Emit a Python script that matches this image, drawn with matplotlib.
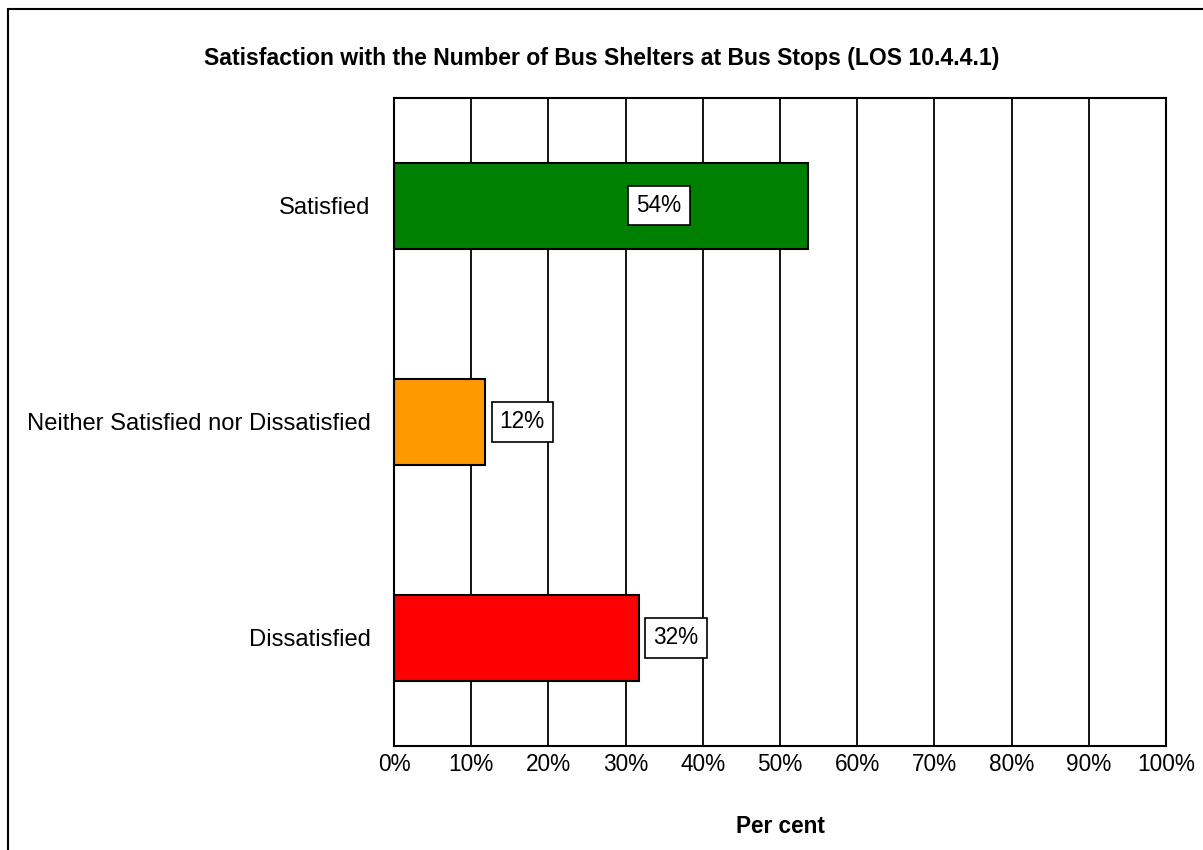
import matplotlib
matplotlib.use("Agg")
import matplotlib.pyplot as plt
from matplotlib.patches import Rectangle
from matplotlib.ticker import MultipleLocator, PercentFormatter

plt.rcParams['font.family'] = ['Liberation Sans', 'DejaVu Sans']

categories = ["Satisfied", "Neither Satisfied nor Dissatisfied", "Dissatisfied"]
values = [53.6, 11.8, 31.7]
colors = ["#008000", "#FF9900", "#FF0000"]
label_x = [34.3, None, None]  # inside-bar label position for the first bar

FS = 16.3

fig = plt.figure(figsize=(12.03, 8.5), dpi=100)
ax = fig.add_axes([394 / 1203, 1 - 746 / 850, (1166 - 394) / 1203, (746 - 97.7) / 850])

ypos = list(range(len(categories)))
ax.barh(ypos, values, height=0.4, color=colors, edgecolor="black", linewidth=1.5, zorder=3)
ax.set_ylim(len(categories) - 0.5, -0.5)
ax.set_xlim(0, 100)
ax.set_yticks(ypos)
ax.set_yticklabels(categories, fontsize=FS + 0.8)
ax.xaxis.set_major_locator(MultipleLocator(10))
ax.xaxis.set_major_formatter(PercentFormatter(decimals=0))
ax.tick_params(axis="x", length=0, pad=5, labelsize=FS)
ax.tick_params(axis="y", length=0, pad=17)
ax.grid(axis="x", color="black", linewidth=1.3, zorder=1)
ax.grid(axis="y", visible=False)
for s in ax.spines.values():
    s.set_linewidth(1.5)
    s.set_color("black")
    s.set_zorder(4)

box = dict(boxstyle="square,pad=0.36", facecolor="white", edgecolor="black", linewidth=1.2)
for y, v, lx in zip(ypos, values, label_x):
    text = f"{v:.0f}%"
    if lx is not None:
        ax.text(lx, y, text, ha="center", va="center", fontsize=FS, bbox=box, zorder=5)
    else:
        ax.annotate(text, (v, y), xytext=(10.5, 0), textcoords="offset points",
                    ha="left", va="center", fontsize=FS, bbox=box, zorder=5)

ax.set_xlabel("Per cent", fontsize=FS, fontweight="bold", labelpad=28)
fig.text(0.5, 1 - 58 / 850, "Satisfaction with the Number of Bus Shelters at Bus Stops (LOS 10.4.4.1)",
         ha="center", va="center", fontsize=FS + 0.3, fontweight="bold")

fig.patches.append(Rectangle((8 / 1203, -0.1), 1.2, 1.1 - 9 / 850, transform=fig.transFigure,
                             fill=False, edgecolor="black", linewidth=1.5))

fig.savefig("out.png", dpi=100, facecolor="white")
